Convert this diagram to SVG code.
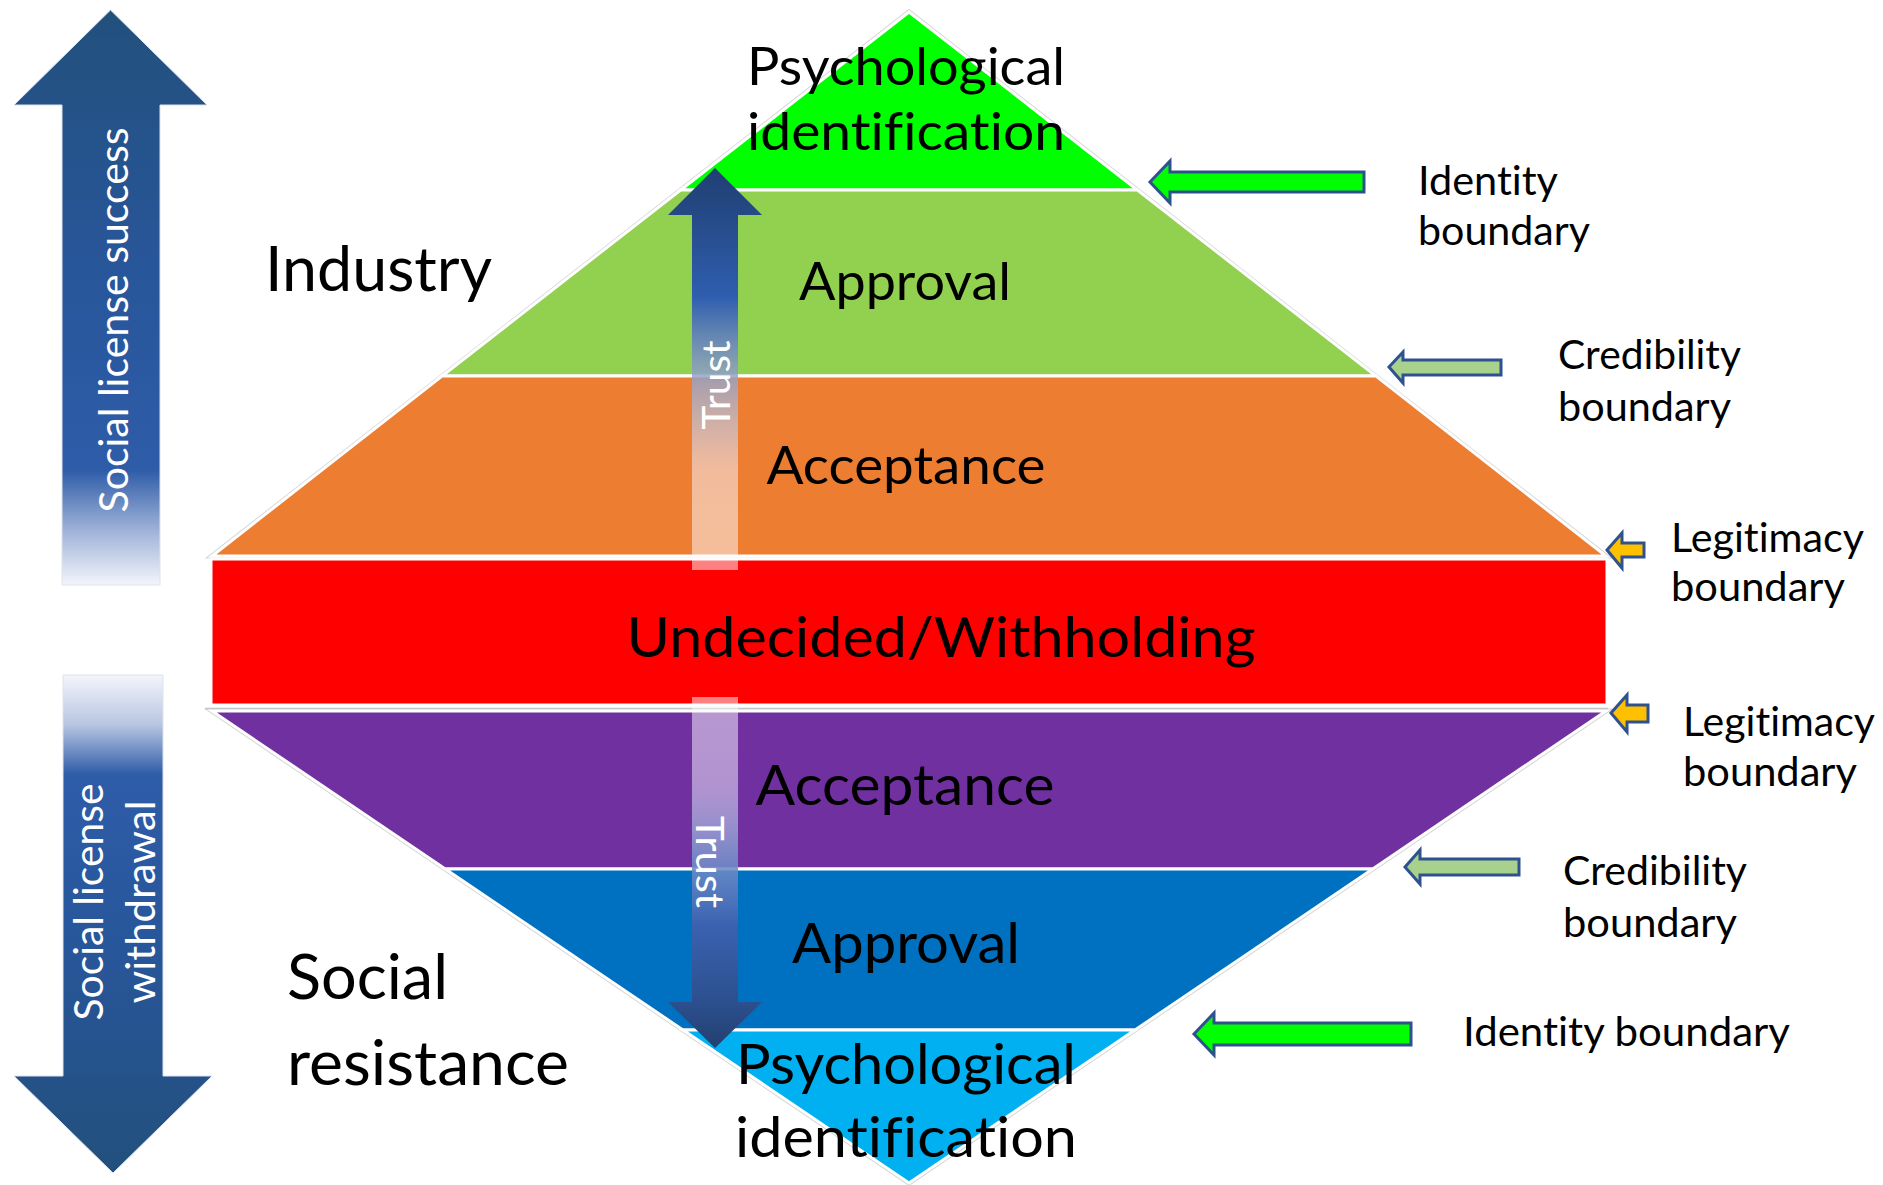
<svg xmlns="http://www.w3.org/2000/svg" width="1883" height="1185" viewBox="0 0 1883 1185">
  <style>
    .t { font-family: Lato, "Liberation Sans", sans-serif; fill: #000; font-variant-ligatures: none; }
    .w { font-family: Lato, "Liberation Sans", sans-serif; fill: #FFFFFF; font-variant-ligatures: none; }
    .layer { stroke: #FFFFFF; stroke-width: 3; stroke-linejoin: miter; }
    .blk { stroke: #2F528F; stroke-width: 3; stroke-linejoin: miter; }
  </style>
  <defs>
    <linearGradient id="gradSuccess" x1="0" y1="0" x2="0" y2="1">
      <stop offset="0" stop-color="#22507C"/>
      <stop offset="0.45" stop-color="#28569A"/>
      <stop offset="0.8" stop-color="#2E5CA8"/>
      <stop offset="0.9" stop-color="#9AAED6"/>
      <stop offset="1" stop-color="#F3F5FA"/>
    </linearGradient>
    <linearGradient id="gradWithdrawal" x1="0" y1="0" x2="0" y2="1">
      <stop offset="0" stop-color="#F3F5FA"/>
      <stop offset="0.1" stop-color="#B8C5E2"/>
      <stop offset="0.2" stop-color="#2E5CA8"/>
      <stop offset="0.55" stop-color="#28569A"/>
      <stop offset="1" stop-color="#22507C"/>
    </linearGradient>
    <linearGradient id="gradTrustUp" x1="0" y1="0" x2="0" y2="1">
      <stop offset="0" stop-color="#203F74"/>
      <stop offset="0.12" stop-color="#254A86"/>
      <stop offset="0.32" stop-color="#2F5EB0"/>
      <stop offset="0.5" stop-color="#8A9CC4" stop-opacity="0.85"/>
      <stop offset="0.75" stop-color="#F4E4E4" stop-opacity="0.6"/>
      <stop offset="1" stop-color="#FFFFFF" stop-opacity="0.5"/>
    </linearGradient>
    <linearGradient id="gradTrustDown" x1="0" y1="0" x2="0" y2="1">
      <stop offset="0" stop-color="#FFFFFF" stop-opacity="0.5"/>
      <stop offset="0.25" stop-color="#DCD4F0" stop-opacity="0.6"/>
      <stop offset="0.45" stop-color="#7B95CC" stop-opacity="0.85"/>
      <stop offset="0.65" stop-color="#3A62B0"/>
      <stop offset="0.87" stop-color="#2C4F8E"/>
      <stop offset="1" stop-color="#22406F"/>
    </linearGradient>
  </defs>

  <rect width="1883" height="1185" fill="#FFFFFF"/>

  <!-- soft outline round the two halves of the diamond -->
  <g id="diamond-outline" fill="none" stroke="#D6D6D6" stroke-width="5">
    <polygon points="909,12 1606,556 212,556"/>
    <polygon points="212,711 1606,711 909,1183"/>
  </g>

  <!-- upper pyramid: industry side -->
  <g id="layer-psych-top">
    <polygon class="layer" fill="#00FF00" points="909,12 1137.4,190 680.6,190"/>
  </g>
  <g id="layer-approval-top">
    <polygon class="layer" fill="#92D050" points="680.6,190 1137.4,190 1376,376 442,376"/>
  </g>
  <g id="layer-acceptance-top">
    <polygon class="layer" fill="#ED7D31" points="442,376 1376,376 1606,556 212,556"/>
  </g>
  <g id="layer-undecided">
    <rect class="layer" fill="#FF0000" x="211" y="559" width="1396" height="146"/>
  </g>
  <line x1="205" y1="708.5" x2="1608" y2="708.5" stroke="#C4C4C4" stroke-width="1.5"/>

  <!-- lower pyramid: social resistance side -->
  <g id="layer-acceptance-bottom">
    <polygon class="layer" fill="#7030A0" points="212,711 1606,711 1372.7,869 445.3,869"/>
  </g>
  <g id="layer-approval-bottom">
    <polygon class="layer" fill="#0070C0" points="445.3,869 1372.7,869 1135,1030 683,1030"/>
  </g>
  <g id="layer-psych-bottom">
    <polygon class="layer" fill="#00B0F0" points="683,1030 1135,1030 909,1183"/>
  </g>

  <!-- arrows -->
  <g id="connectors">
    <!-- side arrows -->
    <polygon id="arrow-success" fill="url(#gradSuccess)" stroke="#DDE2EC" stroke-width="1"
             points="110.5,10 207,105 160,105 160,585 62,585 62,105 14,105"/>
    <polygon id="arrow-withdrawal" fill="url(#gradWithdrawal)" stroke="#DDE2EC" stroke-width="1"
             points="63,675 163,675 163,1076 212,1076 113,1173 14,1076 63,1076"/>
    <!-- trust arrows -->
    <polygon id="arrow-trust-up" fill="url(#gradTrustUp)"
             points="715,168 762,215 738,215 738,570 692,570 692,215 668,215"/>
    <polygon id="arrow-trust-down" fill="url(#gradTrustDown)"
             points="692,697 738,697 738,1002 762,1002 715,1048 668,1002 692,1002"/>
    <!-- boundary markers -->
    <polygon id="mark-identity-top" class="blk" fill="#00FF00"
             points="1150,182 1170,161 1170,172 1364,172 1364,192 1170,192 1170,203"/>
    <polygon id="mark-credibility-top" class="blk" fill="#A9D18E"
             points="1389,367 1403,352 1403,360 1501,360 1501,375 1403,375 1403,383"/>
    <polygon id="mark-legitimacy-top" class="blk" fill="#FFC000"
             points="1607,550 1622,533 1622,543 1644,543 1644,557 1622,557 1622,568"/>
    <polygon id="mark-legitimacy-bottom" class="blk" fill="#FFC000"
             points="1611,713 1627,695 1627,705 1648,705 1648,722 1627,722 1627,732"/>
    <polygon id="mark-credibility-bottom" class="blk" fill="#A9D18E"
             points="1405,867 1420,850 1420,859 1519,859 1519,875 1420,875 1420,884"/>
    <polygon id="mark-identity-bottom" class="blk" fill="#00FF00"
             points="1194,1034 1214,1013 1214,1023 1411,1023 1411,1045 1214,1045 1214,1055"/>
  </g>

  <!-- arrow captions -->
  <g id="caption-success">
    <text class="w" font-size="40" text-anchor="middle" textLength="385" lengthAdjust="spacingAndGlyphs"
          transform="translate(128,320) rotate(-90)">Social license success</text>
  </g>
  <g id="caption-withdrawal">
    <text class="w" font-size="40" text-anchor="middle" textLength="237" lengthAdjust="spacingAndGlyphs"
          transform="translate(103,902) rotate(-90)">Social license</text>
    <text class="w" font-size="40" text-anchor="middle" textLength="203" lengthAdjust="spacingAndGlyphs"
          transform="translate(155,902) rotate(-90)">withdrawal</text>
  </g>
  <g id="caption-trust-up">
    <text class="w" font-size="39" text-anchor="middle" textLength="89" lengthAdjust="spacingAndGlyphs"
          transform="translate(730,385) rotate(-90)">Trust</text>
  </g>
  <g id="caption-trust-down">
    <text class="w" font-size="39" text-anchor="middle" textLength="92" lengthAdjust="spacingAndGlyphs"
          transform="translate(696,862) rotate(90)">Trust</text>
  </g>

  <!-- layer labels -->
  <g id="label-psych-top">
    <text class="t" font-size="52" x="906" y="85" text-anchor="middle" textLength="318" lengthAdjust="spacingAndGlyphs">Psychological</text>
    <text class="t" font-size="52" x="906" y="150" text-anchor="middle" textLength="318" lengthAdjust="spacingAndGlyphs">identification</text>
  </g>
  <g id="label-approval-top">
    <text class="t" font-size="52" x="905" y="300" text-anchor="middle" textLength="212" lengthAdjust="spacingAndGlyphs">Approval</text>
  </g>
  <g id="label-acceptance-top">
    <text class="t" font-size="53" x="906" y="484" text-anchor="middle" textLength="279" lengthAdjust="spacingAndGlyphs">Acceptance</text>
  </g>
  <g id="label-undecided">
    <text class="t" font-size="56" x="941" y="657" text-anchor="middle" textLength="629" lengthAdjust="spacingAndGlyphs">Undecided/Withholding</text>
  </g>
  <g id="label-acceptance-bottom">
    <text class="t" font-size="57" x="905" y="805" text-anchor="middle" textLength="299" lengthAdjust="spacingAndGlyphs">Acceptance</text>
  </g>
  <g id="label-approval-bottom">
    <text class="t" font-size="57" x="906" y="963" text-anchor="middle" textLength="228" lengthAdjust="spacingAndGlyphs">Approval</text>
  </g>
  <g id="label-psych-bottom">
    <text class="t" font-size="57" x="906" y="1084" text-anchor="middle" textLength="340" lengthAdjust="spacingAndGlyphs">Psychological</text>
    <text class="t" font-size="57" x="906" y="1157" text-anchor="middle" textLength="342" lengthAdjust="spacingAndGlyphs">identification</text>
  </g>

  <!-- side headings -->
  <g id="heading-industry">
    <text class="t" font-size="61" x="265" y="291" textLength="227" lengthAdjust="spacingAndGlyphs">Industry</text>
  </g>
  <g id="heading-resistance">
    <text class="t" font-size="61" x="287" y="999" textLength="161" lengthAdjust="spacingAndGlyphs">Social</text>
    <text class="t" font-size="61" x="287" y="1085" textLength="282" lengthAdjust="spacingAndGlyphs">resistance</text>
  </g>

  <!-- boundary labels -->
  <g id="label-identity-top">
    <text class="t" font-size="40" x="1418" y="195" textLength="140" lengthAdjust="spacingAndGlyphs">Identity</text>
    <text class="t" font-size="40" x="1418" y="245" textLength="172" lengthAdjust="spacingAndGlyphs">boundary</text>
  </g>
  <g id="label-credibility-top">
    <text class="t" font-size="40" x="1558" y="369" textLength="183" lengthAdjust="spacingAndGlyphs">Credibility</text>
    <text class="t" font-size="40" x="1558" y="421" textLength="173" lengthAdjust="spacingAndGlyphs">boundary</text>
  </g>
  <g id="label-legitimacy-top">
    <text class="t" font-size="40" x="1671" y="552" textLength="193" lengthAdjust="spacingAndGlyphs">Legitimacy</text>
    <text class="t" font-size="40" x="1671" y="601" textLength="174" lengthAdjust="spacingAndGlyphs">boundary</text>
  </g>
  <g id="label-legitimacy-bottom">
    <text class="t" font-size="40" x="1683" y="736" textLength="192" lengthAdjust="spacingAndGlyphs">Legitimacy</text>
    <text class="t" font-size="40" x="1683" y="786" textLength="174" lengthAdjust="spacingAndGlyphs">boundary</text>
  </g>
  <g id="label-credibility-bottom">
    <text class="t" font-size="40" x="1563" y="885" textLength="184" lengthAdjust="spacingAndGlyphs">Credibility</text>
    <text class="t" font-size="40" x="1563" y="937" textLength="174" lengthAdjust="spacingAndGlyphs">boundary</text>
  </g>
  <g id="label-identity-bottom">
    <text class="t" font-size="40" x="1463" y="1046" textLength="327" lengthAdjust="spacingAndGlyphs">Identity boundary</text>
  </g>
</svg>
